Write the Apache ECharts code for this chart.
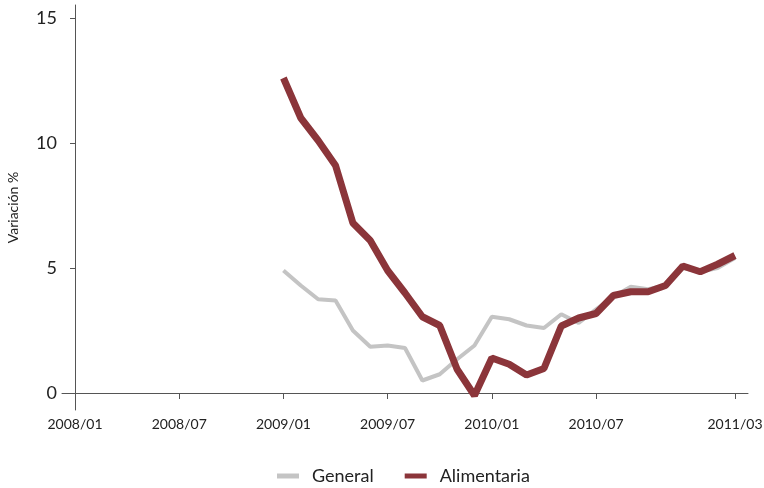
<!DOCTYPE html>
<html>
<head>
<meta charset="utf-8">
<script src="https://cdn.jsdelivr.net/npm/echarts@6/dist/echarts.min.js"></script>
<style>html,body{margin:0;padding:0;background:#fff}#c{width:764px;height:488px}</style>
</head>
<body>
<div id="c"></div>
<script>
// Months indexed from 2008/01 (index 0)
const months = [];
for (let y = 2008; y <= 2011; y++) for (let m = 1; m <= 12; m++) months.push(y + '/' + String(m).padStart(2, '0'));
const tickIdx = [0, 6, 12, 18, 24, 30, 38];
const yTicks = [0, 5, 10, 15];
// data from 2009/01 to 2011/03
const seriesMonths = ['2009/01','2009/02','2009/03','2009/04','2009/05','2009/06','2009/07','2009/08','2009/09','2009/10','2009/11','2009/12',
  '2010/01','2010/02','2010/03','2010/04','2010/05','2010/06','2010/07','2010/08','2010/09','2010/10','2010/11','2010/12',
  '2011/01','2011/02','2011/03'];
const general = [4.9,4.3,3.75,3.7,2.5,1.85,1.9,1.8,0.5,0.75,1.35,1.9,
  3.05,2.95,2.7,2.6,3.15,2.8,3.35,3.85,4.25,4.15,4.3,5.0,
  4.85,5.0,5.4];
const alimentaria = [12.6,11.0,10.1,9.1,6.8,6.1,4.9,4.0,3.05,2.7,0.95,-0.1,
  1.4,1.15,0.72,0.98,2.68,3.0,3.18,3.9,4.05,4.05,4.3,5.08,
  4.85,5.15,5.5];

const toPairs = vals => vals.map((v, i) => [months.indexOf(seriesMonths[i]), v]);
const FONT = 'Lato';
const chart = echarts.init(document.getElementById('c'), null, {renderer: 'canvas'});
chart.setOption({
  animation: false,
  backgroundColor: '#fff',
  textStyle: {fontFamily: FONT},
  grid: {left: 62, right: 16, top: 5, bottom: 78, containLabel: false, outerBoundsMode: 'none'},
  xAxis: {
    type: 'value', min: -0.75, max: 38.75,
    splitLine: {show: false},
    axisLine: {lineStyle: {color: '#555', width: 1}},
    axisTick: {customValues: tickIdx, length: 6, lineStyle: {color: '#555'}},
    axisLabel: {customValues: tickIdx, formatter: v => months[Math.round(v)], color: '#222', fontSize: 14, fontFamily: FONT, margin: 7}
  },
  yAxis: {
    type: 'value', min: -0.68, max: 15.52,
    name: 'Variación %', nameLocation: 'middle', nameGap: 42, nameRotate: 90,
    nameTextStyle: {color: '#222', fontSize: 14, fontFamily: FONT},
    splitLine: {show: false},
    axisLine: {show: true, lineStyle: {color: '#555', width: 1}},
    axisTick: {show: true, customValues: yTicks, length: 5, lineStyle: {color: '#555'}},
    axisLabel: {customValues: yTicks, color: '#222', fontSize: 18, fontFamily: FONT, margin: 5}
  },
  legend: {
    left: 272, top: 462, itemWidth: 22, itemHeight: 5, itemGap: 31, icon: 'rect',
    textStyle: {fontSize: 18, color: '#222', fontFamily: FONT, padding: [0, 0, 0, 8]},
    data: ['General', 'Alimentaria']
  },
  series: [
    {name: 'General', type: 'line', data: toPairs(general), showSymbol: false, symbol: 'none',
     color: '#C4C4C4', lineStyle: {width: 4, color: '#C4C4C4'}},
    {name: 'Alimentaria', type: 'line', data: toPairs(alimentaria), showSymbol: false, symbol: 'none',
     color: '#8B353A', lineStyle: {width: 7, color: '#8B353A'}}
  ]
});
</script>
</body>
</html>
